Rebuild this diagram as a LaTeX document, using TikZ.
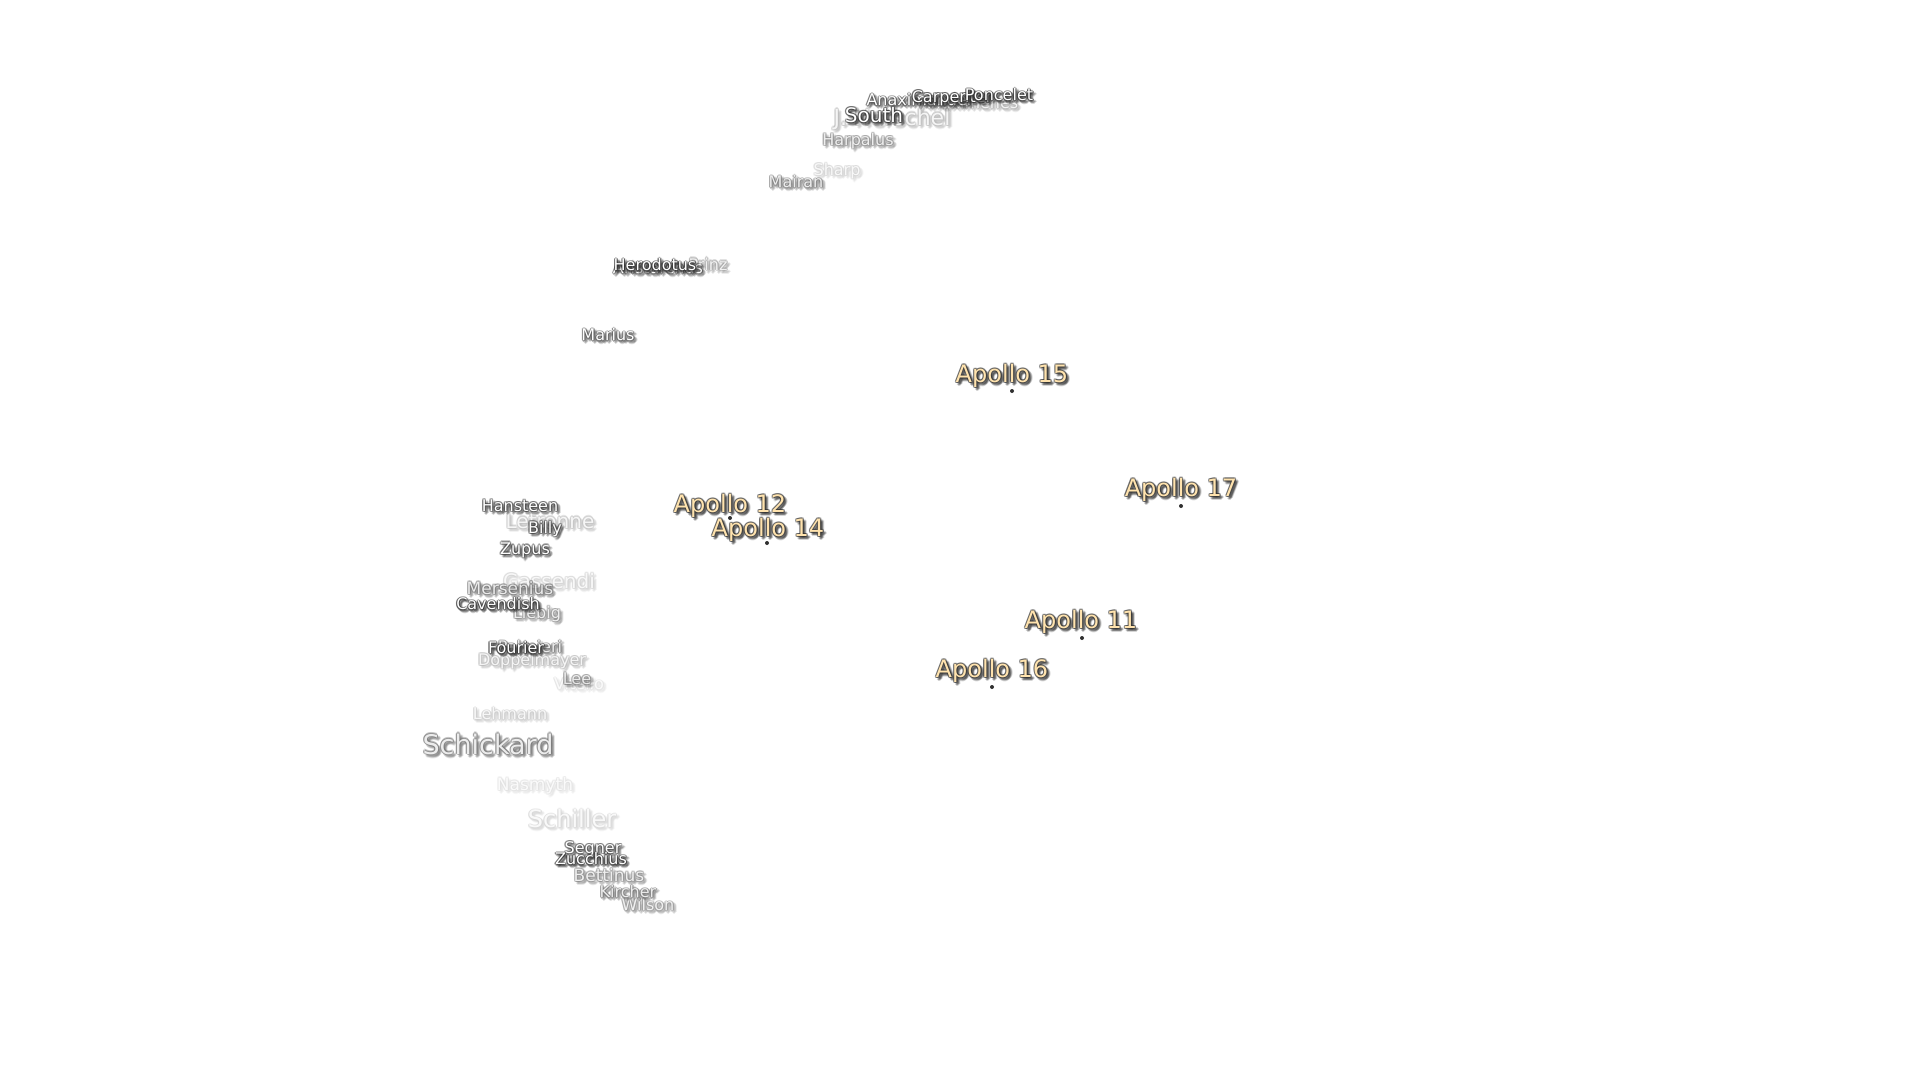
\documentclass[tikz,border=0pt]{standalone}
\usepackage{fontspec}
\setmainfont{DejaVu Sans}
\definecolor{labelcream}{HTML}{FFE3AE}
\definecolor{labelpale}{HTML}{E2E2E2}
\definecolor{labelshade}{HTML}{303030}
\tikzset{
	haze/.style={text=labelshade, opacity=.2, inner sep=0pt},
	rim/.style={text=labelshade, opacity=.4, inner sep=0pt},
	site/.style={circle, fill=labelshade, inner sep=0pt, minimum size=4pt},
}
% name, x, y, font size, opacity, text colour, text
\newcommand{\moonlabel}[7]{%
	\begin{scope}[transparency group, opacity=#5]
		\foreach \dx/\dy [count=\k] in {1/1,3/1,1/3,3/3,2/2,2/3,3/2,4/2,2/4} {
			\node[haze, font=\fontsize{#4}{#4}\selectfont] (#1h\k) at (#2+\dx,#3+\dy) {#7};
		}
		\foreach \dx/\dy [count=\k] in {-1.2/0,1.2/0,0/-1.2,0/1.2,-.9/-.9,.9/-.9,-.9/.9,.9/.9} {
			\node[rim, font=\fontsize{#4}{#4}\selectfont] (#1r\k) at (#2+\dx,#3+\dy) {#7};
		}
		\node[inner sep=0pt, text=#6, font=\fontsize{#4}{#4}\selectfont] (#1) at (#2,#3) {#7};
	\end{scope}
}
\begin{document}
\begin{tikzpicture}[x=1pt, y=-1pt]
	\path[use as bounding box, fill=white] (0,0) rectangle (1920,1080);

	% Pale labels first
	\moonlabel{vitello}{579}{684}{16}{.14}{labelpale}{Vitello}
	\moonlabel{nasmyth}{535}{786}{17}{.15}{labelpale}{Nasmyth}
	\moonlabel{schiller}{572}{819}{24}{.2}{labelpale}{Schiller}
	\moonlabel{lehmann}{510}{714}{16}{.25}{labelpale}{Lehmann}
	\moonlabel{gassendi}{549}{581}{20}{.22}{labelpale}{Gassendi}
	\moonlabel{letronne}{550}{521}{20}{.3}{labelpale}{Letronne}
	\moonlabel{sharp}{837}{171}{16}{.22}{labelpale}{Sharp}
	\moonlabel{herschel}{892}{119}{22}{.33}{labelpale}{J. Herschel}
	\moonlabel{anaximenes}{969}{103}{16}{.38}{labelpale}{Anaximenes}
	\moonlabel{doppelmayer}{532}{661}{16}{.33}{labelpale}{Doppelmayer}
	\moonlabel{prinz}{708}{264}{16}{.45}{labelpale}{Prinz}
	\moonlabel{lee}{577}{679}{16}{.55}{labelpale}{Lee}
	\moonlabel{harpalus}{858}{141}{16}{.55}{labelpale}{Harpalus}
	\moonlabel{mairan}{796}{182}{16}{.6}{labelpale}{Mairan}
	\moonlabel{wilson}{648}{905}{16}{.5}{labelpale}{Wilson}
	\moonlabel{bettinus}{609}{875}{17}{.55}{labelpale}{Bettinus}
	\moonlabel{liebig}{537}{614}{16}{.55}{labelpale}{Liebig}
	\moonlabel{palmieri}{530}{647}{16}{.65}{labelpale}{Palmieri}
	\moonlabel{kircher}{628}{892}{16}{.65}{labelpale}{Kircher}
	\moonlabel{schickard}{488}{744}{27}{.65}{labelpale}{Schickard}
	\moonlabel{mersenius}{510}{588}{17}{.65}{labelpale}{Mersenius}

	% Dark labels
	\moonlabel{marius}{608}{335}{16}{.8}{white}{Marius}
	\moonlabel{anaximander}{920}{100}{16}{.85}{white}{Anaximander}
	\moonlabel{segner}{593}{849}{16}{.85}{white}{Segner}
	\moonlabel{hansteen}{520}{506}{16}{.9}{white}{Hansteen}
	\moonlabel{billy}{545}{529}{16}{.9}{white}{Billy}
	\moonlabel{zupus}{525}{550}{16}{.9}{white}{Zupus}
	\moonlabel{aristarchus}{658}{268}{16}{.75}{white}{Aristarchus}
	\moonlabel{herodotus}{655}{265}{16}{1}{white}{Herodotus}
	\moonlabel{south}{874}{115}{20}{1}{white}{South}
	\moonlabel{carpenter}{952}{98}{16}{1}{white}{Carpenter}
	\moonlabel{poncelet}{999}{95}{16}{1}{white}{Poncelet}
	\moonlabel{cavendish}{498}{604}{16}{1}{white}{Cavendish}
	\moonlabel{fourier}{516}{648}{16}{1}{white}{Fourier}
	\moonlabel{zucchius}{591}{859}{16}{1}{white}{Zucchius}

	% Landing sites
	\node[site] (s15) at (1012,391) {};
	\node[site] (s17) at (1181,506) {};
	\node[site] (s12) at (730,518) {};
	\node[site] (s14) at (767,543) {};
	\node[site] (s11) at (1082,638) {};
	\node[site] (s16) at (992,687) {};
	\moonlabel{apollo15}{1012}{376}{24}{1}{labelcream}{Apollo 15}
	\moonlabel{apollo17}{1181}{490}{24}{1}{labelcream}{Apollo 17}
	\moonlabel{apollo12}{730}{506}{24}{1}{labelcream}{Apollo 12}
	\moonlabel{apollo14}{768}{530}{24}{1}{labelcream}{Apollo 14}
	\moonlabel{apollo11}{1081}{622}{24}{1}{labelcream}{Apollo 11}
	\moonlabel{apollo16}{992}{671}{24}{1}{labelcream}{Apollo 16}
\end{tikzpicture}
\end{document}
